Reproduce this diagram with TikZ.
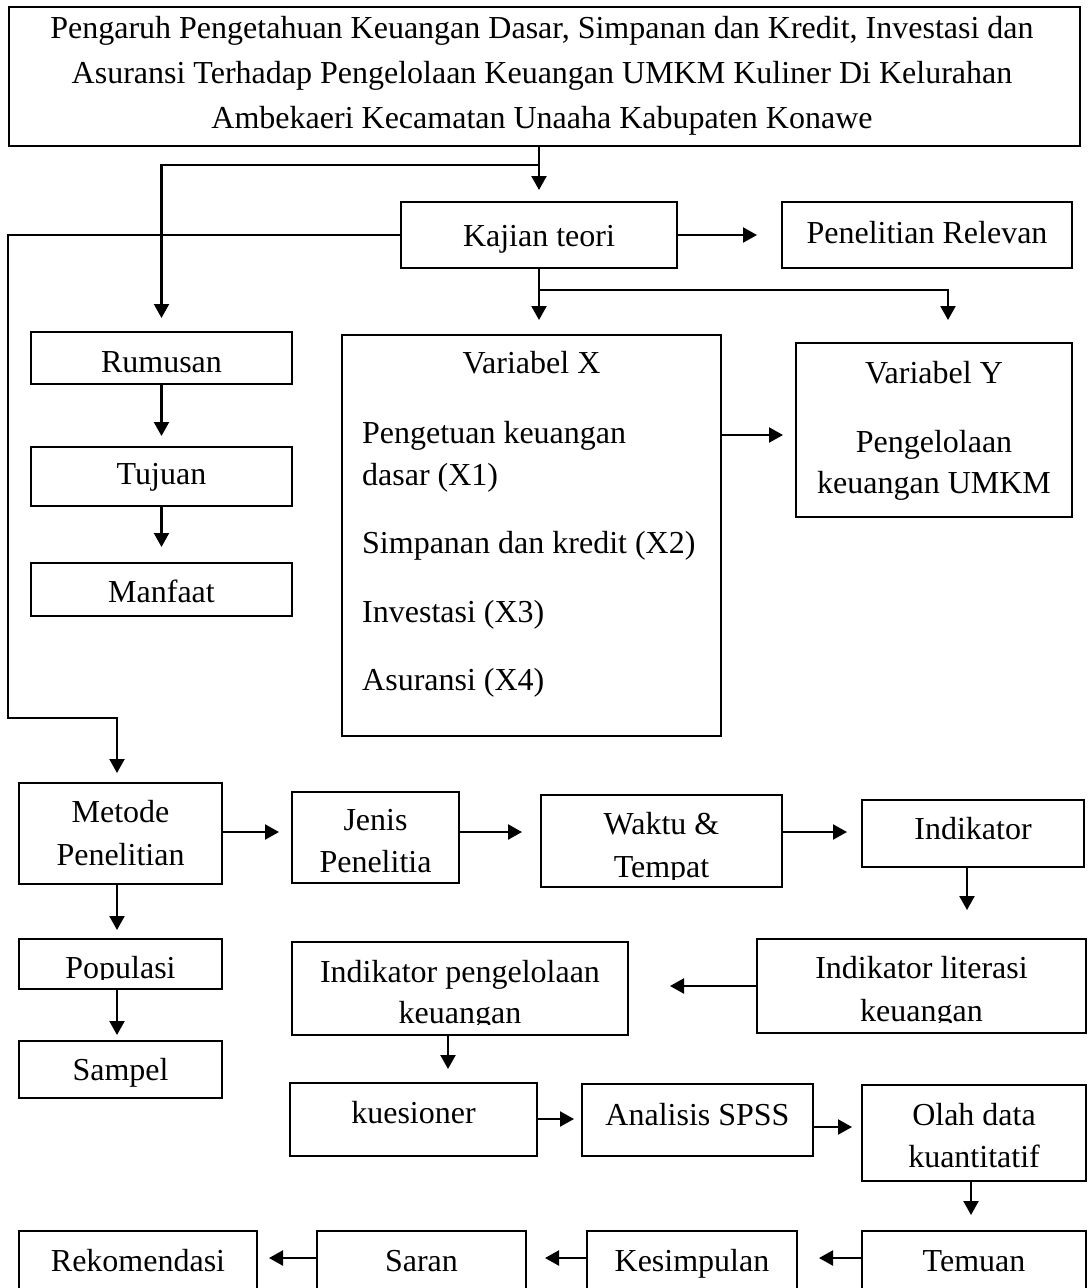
\documentclass[tikz,border=0pt]{standalone}
\usepackage{fontspec}
\setmainfont{Liberation Serif}
\usetikzlibrary{arrows.meta}
\newcommand{\mybox}[5]{\node[box, minimum width={(#4)-(#2)}, minimum height={(#5)-(#3)}] (#1) at ({((#2)+(#4))/2},{((#3)+(#5))/2}) {};}
\begin{document}
\begin{tikzpicture}[x=1pt,y=-1pt,
  box/.style={draw, line width=1.3pt, inner sep=0pt, outer sep=0pt, rectangle},
  txt/.style={inner sep=0pt, anchor=base, font=\fontsize{32}{42}\selectfont},
  txtl/.style={txt, anchor=base west},
  arr/.style={line width=2.2pt, -{Triangle[length=14pt,width=15pt]}}]
\useasboundingbox (0,0) rectangle (1089,1288);
\clip (0,0) rectangle (1089,1288);

% boxes
\mybox{title}{9}{7}{1080}{146}
\mybox{kajian}{401}{202}{677}{268}
\mybox{relevan}{782}{202}{1072}{268}
\mybox{rumusan}{31}{332}{292}{384}
\mybox{tujuan}{31}{447}{292}{506}
\mybox{manfaat}{31}{563}{292}{616}
\mybox{varx}{342}{335}{721}{736}
\mybox{vary}{796}{343}{1072}{517}
\mybox{metode}{19}{783}{222}{884}
\mybox{jenis}{292}{792}{459}{883}
\mybox{waktu}{541}{795}{782}{887}
\mybox{indikator}{862}{800}{1084}{867}
\mybox{literasi}{757}{939}{1086}{1033}
\mybox{pengelolaan}{292}{942}{628}{1035}
\mybox{populasi}{19}{939}{222}{989}
\mybox{sampel}{19}{1041}{222}{1098}
\mybox{kuesioner}{290}{1083}{537}{1156}
\mybox{analisis}{582}{1084}{813}{1156}
\mybox{olah}{862}{1085}{1086}{1181}
\mybox{temuan}{862}{1231}{1086}{1310}
\mybox{kesimpulan}{587}{1231}{797}{1310}
\mybox{saran}{317}{1231}{526}{1310}
\mybox{rekomendasi}{19}{1231}{257}{1310}

% texts
\node[txt] (t-title1) at (542,38) {Pengaruh Pengetahuan Keuangan Dasar, Simpanan dan Kredit, Investasi dan};
\node[txt] (t-title2) at (542,83) {Asuransi Terhadap Pengelolaan Keuangan UMKM Kuliner Di Kelurahan};
\node[txt] (t-title3) at (542,128) {Ambekaeri Kecamatan Unaaha Kabupaten Konawe};
\node[txt] (t-kajian) at (539,246) {Kajian teori};
\node[txt] (t-relevan) at (927,243) {Penelitian Relevan};
\node[txt] (t-rumusan) at (161.5,372) {Rumusan};
\node[txt] (t-tujuan) at (161.5,484) {Tujuan};
\node[txt] (t-manfaat) at (161.5,602) {Manfaat};
\node[txt] (t-varx) at (531.5,373) {Variabel X};
\node[txtl] (t-x1a) at (362,443) {Pengetuan keuangan};
\node[txtl] (t-x1b) at (362,485) {dasar (X1)};
\node[txtl] (t-x2) at (362,553) {Simpanan dan kredit (X2)};
\node[txtl] (t-x3) at (362,622) {Investasi (X3)};
\node[txtl] (t-x4) at (362,690) {Asuransi (X4)};
\node[txt] (t-vary) at (934,383) {Variabel Y};
\node[txt] (t-vary2) at (934,452) {Pengelolaan};
\node[txt] (t-vary3) at (934,493) {keuangan UMKM};
\node[txt] (t-metode1) at (120.5,822) {Metode};
\node[txt] (t-metode2) at (120.5,865) {Penelitian};
\begin{scope}
  \clip (292,792) rectangle (459,874);
  \node[txt] (t-jenis1) at (375.5,830) {Jenis};
  \node[txt] (t-jenis2) at (375.5,872) {Penelitia};
\end{scope}
\begin{scope}
  \clip (541,795) rectangle (782,879);
  \node[txt] (t-waktu1) at (661.5,834) {Waktu \&};
  \node[txt] (t-waktu2) at (661.5,877) {Tempat};
\end{scope}
\node[txt] (t-indikator) at (973,839) {Indikator};
\begin{scope}
  \clip (757,939) rectangle (1086,1022);
  \node[txt] (t-lit1) at (921.5,978) {Indikator literasi};
  \node[txt] (t-lit2) at (921.5,1021) {keuangan};
\end{scope}
\begin{scope}
  \clip (292,942) rectangle (628,1024);
  \node[txt] (t-peng1) at (460,982) {Indikator pengelolaan};
  \node[txt] (t-peng2) at (460,1023) {keuangan};
\end{scope}
\begin{scope}
  \clip (19,939) rectangle (222,979);
  \node[txt] (t-populasi) at (120.5,978) {Populasi};
\end{scope}
\node[txt] (t-sampel) at (120.5,1080) {Sampel};
\node[txt] (t-kuesioner) at (413.5,1123) {kuesioner};
\node[txt] (t-analisis) at (697.5,1125) {Analisis SPSS};
\node[txt] (t-olah1) at (974,1125) {Olah data};
\node[txt] (t-olah2) at (974,1167) {kuantitatif};
\node[txt] (t-temuan) at (974,1271) {Temuan};
\node[txt] (t-kesimpulan) at (692,1271) {Kesimpulan};
\node[txt] (t-saran) at (421.5,1271) {Saran};
\node[txt] (t-rekomendasi) at (138,1271) {Rekomendasi};

% helper coordinates
\coordinate (j1) at (539,165);
\coordinate (l1) at (8,718);
\coordinate (k2) at (948,290);
\coordinate (y435) at (0,435);
\coordinate (y832) at (0,832);
\coordinate (x967) at (967,0);
\coordinate (y986) at (0,986);
\coordinate (x448) at (448,0);
\coordinate (x117) at (117,0);
\coordinate (y1119) at (0,1119);
\coordinate (y1127) at (0,1127);
\coordinate (x971) at (971,0);
\coordinate (y1258) at (0,1258);

% connectors
\draw[arr, shorten >=12pt] (title.south -| kajian.north) -- (kajian.north);
\draw[arr, shorten >=14pt] (j1) -| (rumusan.north);
\draw[arr, shorten >=25pt] (kajian.east) -- (relevan.west);
\draw[arr, shorten >=10pt] (kajian.west) -| (l1) -| (metode.north -| x117);
\draw[arr, shorten >=15pt] (kajian.south) -- (kajian.south |- varx.north);
\draw[arr, shorten >=23pt] (kajian.south |- k2) -- (k2) -- (k2 |- vary.north);
\draw[arr, shorten >=13pt] (varx.east |- y435) -- (vary.west |- y435);
\draw[arr, shorten >=11pt] (rumusan.south) -- (tujuan.north);
\draw[arr, shorten >=16pt] (tujuan.south) -- (manfaat.north);
\draw[arr, shorten >=13pt] (metode.east |- y832) -- (jenis.west |- y832);
\draw[arr, shorten >=19pt] (jenis.east |- y832) -- (waktu.west |- y832);
\draw[arr, shorten >=15pt] (waktu.east |- y832) -- (indikator.west |- y832);
\draw[arr, shorten >=29pt] (indikator.south -| x967) -- (literasi.north -| x967);
\draw[arr, shorten >=42pt] (literasi.west |- y986) -- (pengelolaan.east |- y986);
\draw[arr, shorten >=14pt] (pengelolaan.south -| x448) -- (kuesioner.north -| x448);
\draw[arr, shorten >=9pt] (metode.south -| x117) -- (populasi.north -| x117);
\draw[arr, shorten >=6pt] (populasi.south -| x117) -- (sampel.north -| x117);
\draw[arr, shorten >=8pt] (kuesioner.east |- y1119) -- (analisis.west |- y1119);
\draw[arr, shorten >=10pt] (analisis.east |- y1127) -- (olah.west |- y1127);
\draw[arr, shorten >=16pt] (olah.south -| x971) -- (temuan.north -| x971);
\draw[arr, shorten >=22pt] (temuan.west |- y1258) -- (kesimpulan.east |- y1258);
\draw[arr, shorten >=19pt] (kesimpulan.west |- y1258) -- (saran.east |- y1258);
\draw[arr, shorten >=12pt] (saran.west |- y1258) -- (rekomendasi.east |- y1258);
\end{tikzpicture}
\end{document}
